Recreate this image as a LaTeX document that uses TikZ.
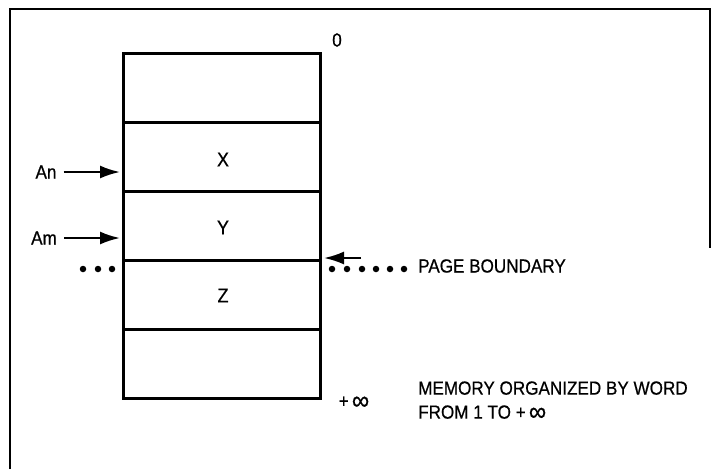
\documentclass[tikz,border=0pt]{standalone}
\usepackage{fontspec}
\setmainfont{Liberation Sans}[FakeStretch=0.9, FakeBold=0.6]
\usetikzlibrary{arrows.meta}
% a larger infinity sign, as in the address labels
\newcommand{\biginf}{\raisebox{-2pt}{\fontsize{27}{19}\selectfont ∞}}
\begin{document}
\begin{tikzpicture}[x=1pt,y=-1pt,
  every node/.style={font=\fontsize{19}{21}\selectfont, inner sep=0pt},
  cell/.style={draw, line width=3pt, minimum width=197pt, minimum height=69pt},
  cellname/.style={font=\fontsize{20}{22}\selectfont},
  frameline/.style={line width=1.6pt},
  ptr/.style={line width=2.2pt, -{Latex[length=20pt,width=13pt]}},
  dotmark/.style={circle, fill, minimum size=6.5pt}
]
\useasboundingbox (0,0) rectangle (712,469);

% outer frame, open at the bottom
\draw[frameline] (10,469) -- (10,9) -- (710,9) -- (710,248);

% memory words
\node[cell] (w0) at (221.5,87.5) {};
\node[cell] (w1) at (221.5,156.5) {};
\node[cell] (w2) at (221.5,225.5) {};
\node[cell] (w3) at (221.5,294.5) {};
\node[cell] (w4) at (221.5,363.5) {};

\node[cellname] (x) at (223,159.5) {X};
\node[cellname] (y) at (223,227.5) {Y};
\node[cellname] (z) at (223,295.5) {Z};

% address labels
\node (zero) at (337,40) {0};
\node (inf) at (354,403) {+\,\biginf};

% address register pointers
\node (an) at (46,172) {An};
\node (am) at (44,238) {Am};
\coordinate (antip) at (120,172);
\coordinate (amtip) at (120,238);
\draw[ptr] (an.east) ++(7,0) coordinate (anstart) (anstart) -- (antip);
\draw[ptr] (am.east) ++(7,0) coordinate (amstart) (amstart) -- (amtip);

% page boundary
\foreach \px in {83,98,112} \node[dotmark] at (\px,269) {};
\foreach \px in {332,347,362,376,390,404} \node[dotmark] at (\px,269) {};
\node[anchor=west] (pb) at (418,266) {PAGE BOUNDARY};
\coordinate (pbstart) at (361,258);
\coordinate (pbtip) at (324,258);
\draw[ptr] (pbstart) -- (pbtip);

% note
\node[anchor=west, align=left] (note) at (418,401)
  {MEMORY ORGANIZED BY WORD\\[3pt]FROM 1 TO +\,\biginf};
\end{tikzpicture}
\end{document}
